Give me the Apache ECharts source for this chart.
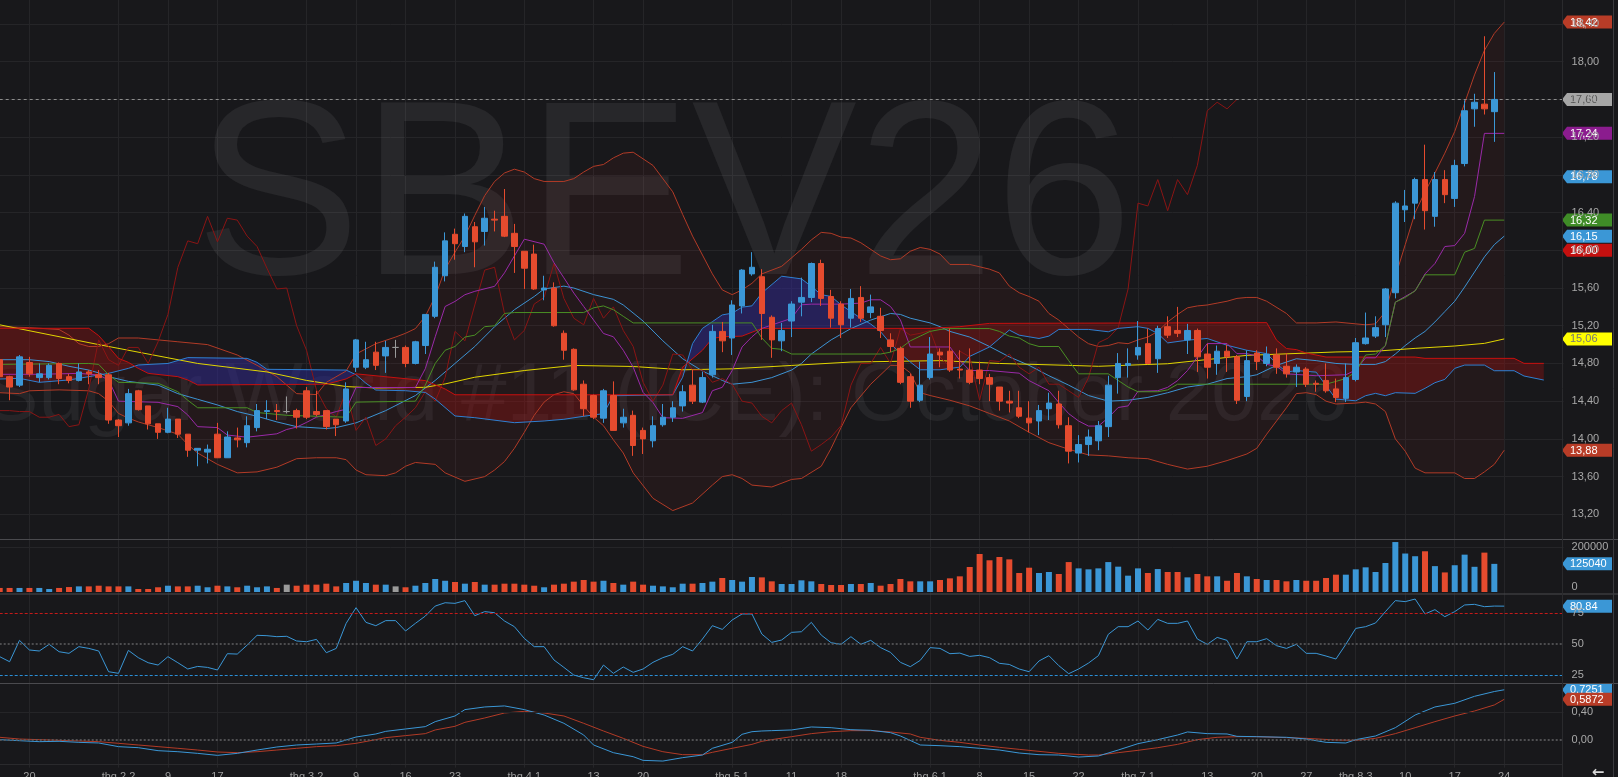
<!DOCTYPE html>
<html><head><meta charset="utf-8">
<script src="https://cdn.jsdelivr.net/npm/echarts@6/dist/echarts.min.js"></script>
<style>html,body{margin:0;padding:0;background:#18181b;overflow:hidden}#c{width:1618px;height:777px}</style>
</head><body><div id="c"></div>
<script>
const categories = ['01-14','01-15','01-16','01-20','01-21','01-22','01-23','01-26','01-27','01-28','01-29','01-30',
'02-02','02-03','02-04','02-05','02-06','02-09','02-10','02-11','02-12','02-13','02-17','02-18','02-19','02-20','02-23','02-24','02-25','02-26','02-27',
'03-02','03-03','03-04','03-05','03-06','03-09','03-10','03-11','03-12','03-13','03-16','03-17','03-18','03-19','03-20','03-23','03-24','03-25','03-26','03-27','03-30','03-31',
'04-01','04-02','04-06','04-07','04-08','04-09','04-10','04-13','04-14','04-15','04-16','04-17','04-20','04-21','04-22','04-23','04-24','04-27','04-28','04-29','04-30',
'05-01','05-04','05-05','05-06','05-07','05-08','05-11','05-12','05-13','05-14','05-15','05-18','05-19','05-20','05-21','05-22','05-26','05-27','05-28','05-29',
'06-01','06-02','06-03','06-04','06-05','06-08','06-09','06-10','06-11','06-12','06-15','06-16','06-17','06-18','06-19','06-22','06-23','06-24','06-25','06-29','06-30',
'07-01','07-02','07-06','07-07','07-08','07-09','07-10','07-13','07-14','07-15','07-16','07-17','07-20','07-21','07-22','07-23','07-24','07-27','07-28','07-29','07-30','07-31',
'08-03','08-04','08-05','08-06','08-07','08-10','08-11','08-12','08-13','08-14','08-17','08-18','08-19','08-20','08-21','08-24','08-25','08-26','08-27','08-28','08-31','09-01'];
const tickIdx = [3,12,17,22,31,36,41,46,53,60,65,74,80,85,94,99,104,109,115,122,127,132,137,142,147,152];
const tickText = ['20','thg 2 2','9','17','thg 3 2','9','16','23','thg 4 1','13','20','thg 5 1','11','18','thg 6 1','8','15','22','thg 7 1','13','20','27','thg 8 3','10','17','24'];

const opens = [14.84,14.66,14.57,14.81,14.65,14.65,14.80,14.66,14.62,14.71,
14.68,14.68,14.20,14.17,14.51,14.35,14.16,14.07,14.21,14.05,
13.88,13.86,14.05,13.80,14.01,13.96,14.12,14.29,14.30,14.29,
14.30,14.51,14.29,14.30,14.21,14.19,14.76,14.76,14.92,14.88,
14.97,14.97,14.80,14.99,15.30,15.73,16.17,16.04,16.25,16.20,
16.33,16.36,16.18,15.99,15.96,15.58,15.60,15.12,14.95,14.58,
14.46,14.22,14.46,14.17,14.25,14.09,13.98,14.15,14.23,14.35,
14.57,14.39,14.68,15.14,15.07,15.41,15.75,15.72,15.29,15.04,
15.25,15.45,15.50,15.86,15.51,15.43,15.28,15.50,15.34,15.30,
15.05,14.96,14.66,14.41,14.65,14.92,14.93,14.74,14.73,14.73,
14.65,14.55,14.40,14.33,14.22,14.19,14.32,14.37,14.14,13.85,
13.94,13.98,14.13,14.65,14.78,14.89,15.01,14.85,15.19,15.15,
15.05,15.15,14.90,14.80,14.93,14.87,14.45,14.91,14.80,14.89,
14.77,14.71,14.74,14.59,14.62,14.53,14.43,14.63,15.01,15.09,
15.21,15.55,16.43,16.50,16.75,16.36,16.75,16.55,16.92,17.50,
17.55,17.47];
const closes = [14.66,14.55,14.87,14.69,14.69,14.78,14.64,14.62,14.71,14.69,
14.65,14.20,14.14,14.48,14.31,14.16,14.07,14.21,14.05,13.88,
13.90,13.89,13.80,14.02,13.99,14.14,14.30,14.30,14.29,14.29,
14.23,14.23,14.26,14.13,14.15,14.53,15.05,14.84,14.78,14.97,
14.97,14.80,15.03,15.32,15.82,16.10,16.07,16.36,16.09,16.34,
16.32,16.15,16.04,15.81,15.59,15.60,15.20,14.94,14.52,14.32,
14.23,14.51,14.09,14.23,13.93,14.00,14.14,14.23,14.33,14.50,
14.40,14.65,15.14,15.04,15.42,15.79,15.82,15.33,15.05,15.15,
15.43,15.50,15.86,15.49,15.28,15.21,15.49,15.28,15.40,15.15,
14.98,14.60,14.40,14.57,14.90,14.89,14.73,14.73,14.60,14.64,
14.58,14.40,14.38,14.24,14.17,14.30,14.38,14.15,13.87,13.94,
14.02,14.14,14.57,14.80,14.80,14.97,14.80,15.17,15.10,15.12,
15.15,14.87,14.76,14.93,14.87,14.41,14.83,14.82,14.90,14.76,
14.69,14.76,14.58,14.58,14.51,14.44,14.65,15.02,15.07,15.18,
15.59,16.50,16.47,16.75,16.42,16.75,16.59,16.90,17.48,17.57,
17.50,17.60];
const lows = [14.64,14.41,14.55,14.66,14.60,14.63,14.58,14.59,14.61,14.58,
14.58,14.16,14.02,14.14,14.30,14.10,14.00,14.06,14.01,13.81,
13.71,13.74,13.80,13.80,13.91,13.91,14.08,14.21,14.20,14.27,
14.11,14.21,14.24,14.10,14.03,14.17,14.71,14.74,14.73,14.70,
14.86,14.76,14.79,14.90,15.28,15.67,15.90,15.98,15.82,16.05,
16.20,16.14,15.76,15.59,15.58,15.47,15.19,14.84,14.51,14.24,
14.21,14.17,14.09,14.12,13.82,13.84,13.91,14.13,14.18,14.29,
14.37,14.38,14.65,14.92,14.89,15.33,15.73,15.05,14.86,14.93,
15.08,15.30,15.45,15.41,15.18,15.07,15.18,15.24,15.28,15.07,
14.92,14.58,14.33,14.39,14.63,14.76,14.71,14.64,14.58,14.58,
14.40,14.30,14.28,14.22,14.07,14.04,14.20,14.11,13.74,13.75,
13.82,13.88,14.02,14.48,14.65,14.84,14.79,14.70,15.07,15.08,
14.90,14.71,14.64,14.68,14.71,14.37,14.40,14.73,14.77,14.69,
14.65,14.55,14.55,14.50,14.49,14.39,14.39,14.61,15.00,15.07,
15.08,15.49,16.30,16.33,16.22,16.25,16.50,16.46,16.89,17.31,
17.44,17.15];
const highs = [14.86,14.67,14.89,14.87,14.80,14.80,14.81,14.69,14.80,14.73,
14.73,14.70,14.21,14.53,14.52,14.35,14.16,14.33,14.21,14.05,
13.90,13.94,14.17,14.08,14.12,14.24,14.37,14.41,14.37,14.45,
14.32,14.55,14.51,14.30,14.21,14.60,15.06,15.03,15.03,15.04,
15.05,14.99,15.04,15.32,15.88,16.19,16.23,16.39,16.30,16.46,
16.42,16.65,16.28,15.99,16.06,15.73,15.66,15.15,14.96,14.62,
14.47,14.53,14.61,14.32,14.30,14.12,14.24,14.37,14.40,14.57,
14.74,14.71,15.21,15.24,15.47,15.80,15.98,15.80,15.31,15.23,
15.46,15.71,15.87,15.90,15.58,15.46,15.59,15.62,15.53,15.39,
15.12,14.98,14.69,14.82,15.08,14.96,15.17,14.94,14.96,14.82,
14.69,14.55,14.51,14.51,14.40,14.36,14.49,14.51,14.23,14.04,
14.10,14.19,14.67,14.91,14.96,15.25,15.17,15.20,15.30,15.40,
15.22,15.17,15.01,14.99,15.00,14.89,14.94,14.94,14.98,14.96,
14.91,14.79,14.76,14.62,14.80,14.64,14.80,15.07,15.34,15.30,
15.60,16.52,16.64,16.77,17.12,16.83,16.85,16.96,17.59,17.66,
18.27,17.89];
const volumes = [18000,18000,18000,18000,18000,13300,18000,22000,25000,25000,
28000,25000,25000,25000,13300,13300,21000,28000,25000,25000,
28000,21000,28000,25000,21000,28000,21000,25000,18000,32600,
28000,32600,32600,37000,25000,40000,50000,40000,32600,32600,
25000,21000,28000,40000,57800,50000,44400,37000,44400,32600,
32600,37000,37000,32600,28000,21000,32600,37000,46000,53300,
46000,50000,40000,32600,46000,32600,28000,25000,21000,37000,
37000,40000,46000,62200,53300,46000,66600,65000,47400,35500,
35500,51800,47400,35500,31100,31100,35500,35500,40000,28100,
35500,57800,47400,47400,47400,53300,60700,69600,111000,169000,
141000,155500,145000,84400,108000,84400,88900,80000,133000,105000,
100700,105000,133000,112600,72600,105000,84400,102000,88900,88900,
65000,80000,69600,69600,50000,84400,69600,57800,53300,53300,
47400,53300,50000,50000,62200,77000,77000,100700,109600,88900,
128800,222000,171000,159000,181000,115000,87000,119000,166000,112000,
175000,125040];
const rsi = [39.9,35.8,53.1,45.3,44.5,49.9,43.9,42.6,48.0,46.6,
44.5,27.7,26.4,45.0,39.1,35.0,33.1,39.9,35.0,29.9,
32.0,31.2,29.1,42.3,42.0,49.3,57.2,56.9,56.1,56.4,
52.6,52.0,53.9,43.1,46.6,66.9,79.6,67.7,65.0,69.1,
69.1,60.7,66.9,72.8,80.9,83.6,83.1,85.3,73.1,76.4,
75.5,68.8,64.2,54.7,48.0,48.0,37.2,31.2,25.0,22.8,
21.2,33.1,26.4,31.5,27.2,29.9,35.3,39.1,41.8,48.0,
44.5,54.2,65.0,62.0,69.6,74.5,74.5,58.2,51.5,53.4,
59.6,60.1,67.7,57.4,51.2,49.9,56.1,49.9,53.1,47.2,
43.4,35.3,31.8,36.9,47.2,46.6,42.3,42.8,40.1,41.0,
39.1,34.5,33.6,29.9,27.7,36.4,40.7,32.6,26.1,29.9,
34.7,40.7,58.0,64.2,64.2,68.8,61.5,70.1,66.9,66.9,
68.8,54.2,49.9,55.5,53.1,38.0,52.0,52.0,54.5,48.8,
46.6,49.9,42.6,42.6,40.4,38.0,49.9,62.8,64.2,67.2,
76.4,85.3,84.5,86.6,74.5,78.0,72.3,76.4,81.8,82.3,
80.4,80.9,80.84];
const macdLine = [[0,0.005],[2,-0.01],[4,-0.024],[6,-0.019],[8,-0.034],[10,-0.043],[12,-0.096],[14,-0.111],[16,-0.154],[18,-0.169],[20,-0.193],[22,-0.222],[24,-0.193],[26,-0.145],[28,-0.101],[30,-0.072],[32,-0.058],[34,-0.043],[36,0.043],[38,0.087],[39,0.125],[41,0.159],[43,0.193],[44,0.265],[46,0.347],[47,0.439],[49,0.477],[51,0.492],[53,0.439],[55,0.361],[57,0.241],[59,0.072],[60,-0.072],[62,-0.183],[64,-0.241],[65,-0.294],[67,-0.304],[69,-0.255],[71,-0.217],[72,-0.12],[74,-0.034],[75,0.082],[76,0.12],[77,0.13],[78,0.135],[80,0.145],[82,0.188],[84,0.178],[86,0.149],[88,0.14],[90,0.106],[91,0.058],[93,-0.072],[95,-0.082],[97,-0.096],[99,-0.12],[101,-0.145],[103,-0.188],[105,-0.212],[107,-0.217],[109,-0.246],[111,-0.231],[113,-0.145],[115,-0.053],[117,0.005],[119,0.072],[120,0.116],[122,0.092],[124,0.087],[125,0.053],[127,0.048],[130,0.039],[132,0.014],[134,-0.034],[136,-0.043],[137,0.005],[139,0.058],[141,0.178],[143,0.361],[145,0.477],[147,0.53],[149,0.631],[151,0.70],[152,0.7251]];
const macdSignal = [[0,0.039],[2,0.014],[4,0.005],[6,-0.005],[8,-0.014],[10,-0.024],[12,-0.048],[14,-0.072],[16,-0.096],[18,-0.12],[20,-0.145],[22,-0.173],[24,-0.183],[26,-0.169],[28,-0.145],[30,-0.12],[32,-0.096],[34,-0.082],[36,-0.048],[38,0.005],[39,0.034],[41,0.063],[43,0.092],[44,0.145],[46,0.198],[47,0.255],[49,0.318],[51,0.39],[53,0.414],[55,0.39],[57,0.347],[59,0.241],[61,0.13],[63,0.024],[65,-0.092],[67,-0.169],[69,-0.212],[71,-0.212],[72,-0.178],[74,-0.12],[76,-0.063],[77,-0.019],[78,0.005],[80,0.048],[82,0.092],[84,0.12],[86,0.135],[88,0.135],[90,0.116],[92,0.087],[93,0.039],[95,-0.005],[97,-0.034],[99,-0.072],[101,-0.106],[103,-0.135],[105,-0.164],[107,-0.193],[110,-0.217],[111,-0.217],[113,-0.183],[115,-0.149],[117,-0.111],[119,-0.063],[121,0.005],[123,0.039],[125,0.048],[127,0.048],[130,0.034],[132,0.024],[135,0],[137,-0.005],[139,0.024],[141,0.092],[143,0.178],[145,0.265],[147,0.347],[149,0.419],[151,0.506],[152,0.5872]];

const bbUpper = [[0,15.19],[3,15.18],[6,15.16],[7,15.10],[8,15.01],[9,14.98],[10,14.98],[11,15.01],[12,15.07],[14,15.07],[16,15.05],[18,15.03],[21,15.00],[24,14.89],[26,14.78],[28,14.66],[30,14.48],[32,14.47],[33,14.60],[35,14.72],[36,14.90],[38,15.01],[40,15.08],[41,15.12],[42,15.17],[43,15.30],[44,15.51],[45,15.80],[46,15.98],[47,16.15],[48,16.37],[49,16.58],[50,16.73],[51,16.82],[52,16.86],[53,16.83],[54,16.76],[55,16.73],[57,16.73],[58,16.76],[59,16.83],[60,16.89],[61,16.91],[62,16.98],[63,17.03],[64,17.04],[66,16.90],[68,16.62],[69,16.38],[70,16.15],[71,15.95],[72,15.75],[73,15.58],[74,15.53],[75,15.58],[76,15.65],[77,15.75],[79,15.83],[81,16.01],[82,16.11],[83,16.19],[84,16.18],[85,16.14],[86,16.13],[87,16.08],[89,15.94],[90,15.90],[91,15.91],[92,15.99],[93,16.03],[94,16.01],[95,15.96],[96,15.85],[98,15.85],[100,15.80],[101,15.76],[102,15.62],[103,15.55],[104,15.51],[105,15.46],[106,15.33],[107,15.26],[108,15.17],[109,15.08],[110,15.01],[111,14.98],[112,14.99],[113,15.02],[114,15.01],[115,15.05],[116,15.08],[117,15.14],[118,15.24],[119,15.32],[120,15.39],[121,15.41],[122,15.42],[123,15.44],[124,15.46],[125,15.49],[126,15.50],[127,15.50],[128,15.46],[130,15.33],[131,15.23],[133,15.23],[135,15.24],[137,15.22],[138,15.21],[139,15.22],[140,15.35],[141,15.72],[142,16.06],[143,16.40],[144,16.62],[145,16.82],[146,17.03],[147,17.26],[148,17.56],[149,17.86],[150,18.12],[151,18.30],[152,18.42]];
const bbLower = [[0,14.49],[2,14.48],[3,14.51],[6,14.52],[9,14.51],[10,14.48],[11,14.40],[12,14.27],[13,14.22],[14,14.18],[16,14.12],[18,14.05],[19,13.94],[20,13.85],[22,13.73],[24,13.64],[26,13.65],[28,13.70],[30,13.79],[32,13.80],[34,13.80],[35,13.78],[36,13.67],[37,13.62],[39,13.61],[40,13.64],[41,13.71],[42,13.75],[44,13.73],[45,13.64],[47,13.55],[49,13.60],[50,13.67],[51,13.76],[52,13.90],[53,14.07],[54,14.25],[55,14.39],[56,14.47],[57,14.50],[58,14.48],[59,14.35],[60,14.23],[61,14.14],[62,13.99],[63,13.85],[64,13.64],[66,13.37],[68,13.24],[70,13.32],[72,13.51],[73,13.60],[74,13.62],[75,13.58],[76,13.51],[78,13.49],[80,13.57],[81,13.58],[83,13.71],[84,13.90],[85,14.12],[86,14.33],[88,14.58],[90,14.78],[91,14.78],[92,14.70],[93,14.49],[94,14.46],[96,14.41],[98,14.35],[100,14.27],[102,14.19],[104,14.07],[106,13.96],[108,13.89],[110,13.83],[112,13.82],[114,13.80],[116,13.79],[118,13.73],[120,13.68],[122,13.71],[124,13.77],[126,13.84],[127,13.90],[128,14.05],[129,14.19],[130,14.33],[131,14.48],[132,14.49],[133,14.47],[134,14.40],[135,14.37],[137,14.38],[138,14.39],[139,14.37],[140,14.29],[141,14.00],[142,13.87],[143,13.69],[144,13.64],[147,13.64],[148,13.58],[149,13.58],[150,13.65],[151,13.73],[152,13.88]];
const bbMiddle = [[0,14.84],[3,14.84],[5,14.82],[7,14.77],[9,14.73],[10,14.70],[11,14.66],[13,14.61],[16,14.57],[18,14.48],[20,14.42],[22,14.36],[24,14.29],[26,14.24],[28,14.18],[30,14.13],[33,14.11],[34,14.12],[36,14.17],[39,14.30],[42,14.46],[44,14.62],[46,14.80],[48,14.98],[50,15.19],[52,15.37],[54,15.51],[55,15.59],[57,15.62],[58,15.60],[60,15.53],[62,15.48],[63,15.42],[65,15.25],[67,15.04],[69,14.85],[71,14.72],[73,14.62],[74,14.58],[76,14.60],[78,14.65],[80,14.73],[81,14.80],[82,14.90],[84,15.05],[86,15.17],[88,15.26],[90,15.33],[91,15.32],[92,15.28],[94,15.23],[95,15.19],[96,15.14],[98,15.08],[100,14.98],[102,14.87],[104,14.78],[106,14.67],[108,14.57],[110,14.46],[112,14.40],[114,14.41],[116,14.44],[118,14.49],[120,14.55],[122,14.58],[124,14.64],[126,14.66],[127,14.68],[129,14.78],[131,14.85],[133,14.83],[135,14.80],[137,14.79],[139,14.79],[140,14.82],[141,14.90],[142,14.99],[143,15.07],[144,15.14],[145,15.24],[146,15.35],[147,15.46],[148,15.61],[149,15.77],[150,15.93],[151,16.06],[152,16.15]];
const smaLong = [[0,15.21],[10,15.00],[20,14.80],[27,14.71],[31,14.62],[35,14.555],[38,14.54],[43,14.547],[45,14.583],[48,14.654],[53,14.725],[58,14.779],[64,14.768],[69,14.733],[74,14.743],[80,14.779],[86,14.815],[95,14.83],[101,14.80],[108,14.78],[111,14.77],[118,14.797],[126,14.886],[135,14.922],[139,14.93],[143,14.96],[147,14.985],[150,15.013],[152,15.06]];
const tenkan = [[0,14.685],[4,14.685],[8,14.695],[10,14.678],[11,14.625],[12,14.40],[16,14.388],[18,14.342],[19,14.254],[20,14.13],[22,14.12],[23,14.041],[25,14.018],[28,14.054],[29,14.10],[30,14.125],[31,14.175],[32,14.23],[34,14.29],[35,14.315],[36,14.545],[42,14.545],[43,14.745],[44,15.083],[45,15.404],[46,15.458],[47,15.529],[48,15.565],[50,15.618],[51,15.761],[52,15.94],[53,16.118],[55,16.065],[56,15.868],[57,15.708],[58,15.547],[59,15.404],[60,15.261],[61,15.118],[62,15.083],[63,14.94],[64,14.761],[65,14.493],[66,14.386],[67,14.225],[69,14.218],[71,14.279],[72,14.511],[73,14.547],[74,14.725],[75,14.975],[76,15.083],[77,15.172],[80,15.279],[81,15.422],[82,15.429],[85,15.429],[87,15.44],[88,15.475],[89,15.475],[90,15.404],[91,15.261],[92,14.975],[96,14.975],[97,14.833],[98,14.725],[100,14.725],[103,14.697],[104,14.618],[106,14.511],[107,14.386],[108,14.268],[109,14.19],[110,14.136],[111,14.136],[112,14.225],[113,14.333],[114,14.35],[115,14.504],[117,14.511],[118,14.547],[119,14.618],[120,14.725],[121,14.868],[122,15.011],[124,15.011],[125,14.904],[126,14.904],[127,14.88],[128,14.79],[129,14.77],[130,14.69],[133,14.67],[136,14.68],[137,14.73],[138,14.86],[139,14.86],[140,14.99],[141,15.45],[142,15.51],[143,15.57],[144,15.75],[145,15.86],[146,16.04],[147,16.05],[148,16.18],[149,16.57],[150,17.24],[152,17.24]];
const kijun = [[0,14.79],[9,14.80],[10,14.79],[11,14.68],[12,14.60],[16,14.59],[18,14.50],[19,14.41],[20,14.33],[25,14.33],[26,14.28],[29,14.25],[35,14.23],[36,14.39],[42,14.40],[43,14.57],[44,14.80],[45,14.94],[46,14.98],[47,15.08],[48,15.10],[49,15.19],[50,15.20],[51,15.33],[52,15.34],[59,15.34],[60,15.39],[61,15.41],[62,15.37],[63,15.30],[64,15.23],[76,15.23],[77,15.07],[78,14.96],[79,14.95],[80,14.90],[89,14.90],[90,14.92],[91,14.96],[92,15.04],[93,15.09],[94,15.14],[95,15.16],[96,15.17],[100,15.17],[101,15.14],[102,15.09],[103,15.07],[104,15.01],[105,14.98],[107,14.98],[108,14.83],[109,14.69],[112,14.69],[113,14.62],[114,14.55],[115,14.50],[117,14.50],[118,14.52],[119,14.58],[134,14.58],[135,14.61],[136,14.64],[137,14.71],[138,14.89],[139,14.90],[140,14.99],[141,15.45],[142,15.50],[143,15.57],[144,15.74],[147,15.74],[148,15.98],[149,16.02],[150,16.32],[152,16.32]];
const spanA = [[0,14.635],[2,14.642],[4,14.60],[7,14.625],[9,14.66],[10,14.678],[11,14.695],[13,14.748],[14,14.784],[17,14.80],[19,14.862],[25,14.854],[26,14.812],[27,14.738],[35,14.73],[36,14.68],[37,14.59],[38,14.518],[41,14.511],[43,14.493],[44,14.422],[46,14.243],[48,14.225],[52,14.172],[55,14.19],[57,14.208],[59,14.24],[61,14.268],[62,14.458],[68,14.468],[69,14.654],[70,15.011],[71,15.172],[72,15.243],[73,15.315],[74,15.333],[75,15.397],[76,15.411],[77,15.547],[79,15.725],[81,15.697],[82,15.618],[83,15.529],[84,15.511],[85,15.422],[86,15.35],[87,15.279],[88,15.218],[89,15.136],[90,15.011],[91,14.904],[92,14.815],[93,14.733],[95,14.733],[97,14.761],[98,14.875],[100,14.975],[102,15.154],[103,15.10],[105,15.065],[106,15.09],[107,15.161],[110,15.161],[112,15.136],[113,15.172],[115,15.19],[116,15.172],[117,15.118],[118,15.018],[120,15.047],[122,15.065],[124,14.993],[126,14.94],[128,14.904],[129,14.797],[130,14.708],[131,14.725],[133,14.708],[134,14.565],[135,14.422],[137,14.404],[138,14.458],[139,14.483],[140,14.458],[141,14.49],[143,14.483],[144,14.536],[145,14.596],[146,14.631],[147,14.748],[148,14.783],[150,14.783],[151,14.723],[153,14.723],[154,14.667],[156,14.624]];
const spanB = [[0,15.173],[9,15.173],[10,15.095],[11,14.978],[12,14.854],[13,14.812],[14,14.748],[15,14.695],[18,14.66],[19,14.625],[20,14.572],[33,14.58],[35,14.636],[36,14.69],[43,14.618],[45,14.529],[46,14.468],[68,14.468],[69,14.761],[71,14.94],[72,15.065],[73,15.083],[75,15.09],[77,15.172],[94,15.172],[97,15.19],[100,15.225],[128,15.233],[129,15.047],[130,14.958],[131,14.947],[132,14.911],[134,14.868],[143,14.868],[144,14.854],[153,14.854],[154,14.801],[156,14.801]];
const chikouShift = 26;
const lastPrice = 17.60;

const C = {up:'#3b97d6', down:'#e54b2e', flat:'#9a9a9a', bb:'#b23b27', mid:'#3d93d3', yellow:'#e2d600',
  green:'#4a8f25', purple:'#9a2aa8', chikou:'#8a1515', spanA:'#2f80d2', spanB:'#c8100f', grid:'#252528', label:'#a8a8a8'};

const candleData = opens.map((o,i)=>{
  const c = closes[i];
  const item = {value:[o, c, lows[i], highs[i]]};
  if (o === c) item.itemStyle = {color:C.flat, color0:C.flat, borderColor:C.flat, borderColor0:C.flat};
  return item;
});
const volData = volumes.map((v,i)=>({value:v, itemStyle:{color: closes[i]>opens[i]?C.up:(closes[i]<opens[i]?C.down:C.flat)}}));
const chikou = closes.slice(chikouShift).map((c,j)=>[j,c]);

function lerp(arr, x){
  for (let k=0;k<arr.length-1;k++){const a=arr[k],b=arr[k+1]; if(x>=a[0]&&x<=b[0]) return a[1]+(b[1]-a[1])*(x-a[0])/(b[0]-a[0]);}
  return arr[arr.length-1][1];
}
function bbFill(params, api){
  const pts = bbUpper.map(p=>api.coord(p)).concat(bbLower.slice().reverse().map(p=>api.coord(p)));
  return {type:'polygon', shape:{points:pts}, style:{fill:'rgba(175,45,35,0.075)'}};
}
function cloudFill(params, api){
  const x0 = api.coord([0, 15])[0], step = api.coord([1, 15])[0] - x0;
  const Y = v => api.coord([0, v])[1];
  const pts = [];
  for (let i=0;i<=156;i++) pts.push([i, lerp(spanA,i), lerp(spanB,i)]);
  const segs = [];
  for (let k=0;k<pts.length-1;k++){
    const [i,a0,b0]=pts[k], [,a1,b1]=pts[k+1];
    const d0=a0-b0, d1=a1-b1;
    if (d0*d1<0){ const t=d0/(d0-d1), yc=a0+(a1-a0)*t;
      segs.push([i,a0,b0,i+t,yc,yc,d0>0]); segs.push([i+t,yc,yc,i+1,a1,b1,d1>0]);
    } else segs.push([i,a0,b0,i+1,a1,b1,(d0+d1)>0]);
  }
  const children=[]; let run=null;
  const flush=()=>{ if(!run) return; const poly=run.top.concat(run.bot.slice().reverse());
    children.push({type:'polygon', shape:{points:poly}, style:{fill: run.pos?'rgba(42,42,150,0.5)':'rgba(150,18,18,0.38)'}}); run=null; };
  segs.forEach(s=>{
    if(!run || run.pos!==s[6]){ flush(); run={pos:s[6], top:[[x0+s[0]*step, Y(s[1])]], bot:[[x0+s[0]*step, Y(s[2])]]}; }
    run.top.push([x0+s[3]*step, Y(s[4])]); run.bot.push([x0+s[3]*step, Y(s[5])]);
  });
  flush();
  return {type:'group', children};
}

const GL=-0.3, GW=1563.9;
const xAxisBase = (gi, showLabel) => ({
  type:'category', data:categories, gridIndex:gi, boundaryGap:false,
  axisLine:{show:false}, axisTick:{show:false},
  axisLabel:{show:showLabel, interval:(idx)=>tickIdx.indexOf(idx)>=0,
    formatter:(v,idx)=>{const k=tickIdx.indexOf(idx); return k>=0?tickText[k]:'';},
    color:'#9d9d9d', fontSize:11, margin:4, fontFamily:'Liberation Sans'},
  splitLine:{show:true, interval:(idx)=>tickIdx.indexOf(idx)>=0, lineStyle:{color:C.grid, width:1}}
});
const fmt2 = v => v.toFixed(2).replace('.', ',');
const line = (data, color, z) => ({type:'line', data, xAxisIndex:0, yAxisIndex:0, showSymbol:false, symbol:'none', silent:true,
  lineStyle:{color, width:1}, z:z||3, animation:false});

const option = {
  backgroundColor:'#18181b',
  animation:false,
  grid:[
    {left:GL, width:GW, top:-13.74, height:565.8, containLabel:false, outerBoundsMode:'none'},
    {left:GL, width:GW, top:538, height:54, containLabel:false, outerBoundsMode:'none'},
    {left:GL, width:GW, top:582.5, height:123.4, containLabel:false, outerBoundsMode:'none'},
    {left:GL, width:GW, top:684.6, height:83.1, containLabel:false, outerBoundsMode:'none'}
  ],
  xAxis:[xAxisBase(0,false), xAxisBase(1,false), xAxisBase(2,false), xAxisBase(3,true)],
  yAxis:[
    {type:'value', gridIndex:0, position:'right', min:12.8, max:18.8, interval:0.4,
      axisLine:{show:false}, axisTick:{show:false},
      axisLabel:{color:C.label, fontSize:11, margin:8, formatter:fmt2, showMinLabel:false, showMaxLabel:false, fontFamily:'Liberation Sans'},
      splitLine:{show:true, showMinLine:false, showMaxLine:false, lineStyle:{color:C.grid}}},
    {type:'value', gridIndex:1, position:'right', min:0, max:240000, interval:200000,
      axisLine:{show:false}, axisTick:{show:false},
      axisLabel:{color:C.label, fontSize:11, margin:8, showMaxLabel:false, verticalAlignMinLabel:'bottom', fontFamily:'Liberation Sans',
        formatter:v=>String(Math.round(v))},
      splitLine:{show:true, showMinLine:false, showMaxLine:false, lineStyle:{color:C.grid}}},
    {type:'value', gridIndex:2, position:'right', min:0, max:100, interval:25,
      axisLine:{show:false}, axisTick:{show:false},
      axisLabel:{color:C.label, fontSize:11, margin:8, showMinLabel:false, showMaxLabel:false, fontFamily:'Liberation Sans'},
      splitLine:{show:false}},
    {type:'value', gridIndex:3, position:'right', min:-0.4, max:0.8, interval:0.4,
      axisLine:{show:false}, axisTick:{show:false},
      axisLabel:{color:C.label, fontSize:11, margin:8, showMinLabel:false, showMaxLabel:false, fontFamily:'Liberation Sans',
        formatter:v=>(Math.abs(v-0.4)<1e-6||Math.abs(v)<1e-6)?fmt2(v):''},
      splitLine:{show:false}}
  ],
  series:[
    {type:'custom', xAxisIndex:0, yAxisIndex:0, data:[[0,15]], renderItem:bbFill, clip:true, silent:true, z:1},
    {type:'custom', xAxisIndex:0, yAxisIndex:0, data:[[0,15]], renderItem:cloudFill, clip:true, silent:true, z:1},
    line(bbUpper, C.bb), line(bbLower, C.bb), line(bbMiddle, C.mid), line(smaLong, C.yellow),
    line(chikou, C.chikou), line(spanA, C.spanA), line(spanB, C.spanB), line(tenkan, C.purple), line(kijun, C.green),
    {type:'candlestick', xAxisIndex:0, yAxisIndex:0, data:candleData, barWidth:6, z:5, silent:true,
      itemStyle:{color:C.up, color0:C.down, borderColor:C.up, borderColor0:C.down, borderWidth:1},
      markLine:{symbol:['none','none'], silent:true, label:{show:false}, animation:false,
        lineStyle:{color:'#8c8c8c', type:[3,3], width:1}, data:[{yAxis:lastPrice}]}},
    {type:'bar', xAxisIndex:1, yAxisIndex:1, data:volData, barWidth:6, silent:true},
    {type:'line', xAxisIndex:2, yAxisIndex:2, data:rsi, showSymbol:false, symbol:'none', silent:true, lineStyle:{color:C.up, width:1},
      markLine:{symbol:['none','none'], silent:true, label:{show:false}, animation:false, data:[
        {yAxis:75, lineStyle:{color:'#c41a1a', type:[3,2], width:1}},
        {yAxis:50, lineStyle:{color:'#5f5f62', type:[2,2], width:1.6}},
        {yAxis:25, lineStyle:{color:'#2a8fd8', type:[3,2], width:1}}]}},
    {type:'line', xAxisIndex:3, yAxisIndex:3, data:macdSignal, showSymbol:false, symbol:'none', silent:true, lineStyle:{color:C.bb, width:1},
      markLine:{symbol:['none','none'], silent:true, label:{show:false}, animation:false, data:[
        {yAxis:0.4, lineStyle:{color:C.grid, type:'solid', width:1}},
        {yAxis:0, lineStyle:{color:'#5f5f62', type:[2,2], width:1.6}}]}},
    {type:'line', xAxisIndex:3, yAxisIndex:3, data:macdLine, showSymbol:false, symbol:'none', silent:true, lineStyle:{color:C.up, width:1}}
  ]
};

const chart = echarts.init(document.getElementById('c'), null, {renderer:'canvas', width:1618, height:777});
chart.setOption(option);

const wm = [
  {type:'text', x:664, y:206, z:0, silent:true, style:{text:'SBEV26', font:'248px "Liberation Sans", Arial', fill:'rgba(255,255,255,0.065)', align:'center', verticalAlign:'middle'}},
  {type:'text', x:666, y:397, z:0, silent:true, style:{text:'Sugar World #11 (ICE): October 2026', font:'82px "Liberation Sans", Arial', fill:'rgba(255,255,255,0.06)', align:'center', verticalAlign:'middle'}}
];
const seps = [539.5, 594, 683.5].map(y=>({type:'line', z:50, silent:true, shape:{x1:0,y1:y,x2:1618,y2:y}, style:{stroke:'#4a4a4e', lineWidth:1}}));
seps.push({type:'line', z:50, silent:true, shape:{x1:0,y1:764.5,x2:1563,y2:764.5}, style:{stroke:'#2a2a2d', lineWidth:1}});
seps.push({type:'line', z:50, silent:true, shape:{x1:1562.5,y1:0,x2:1562.5,y2:777}, style:{stroke:'#2a2a2d', lineWidth:1}});
seps.push({type:'line', z:50, silent:true, shape:{x1:1613.5,y1:0,x2:1613.5,y2:777}, style:{stroke:'#3a3a3e', lineWidth:1}});
seps.push({type:'text', x:1598, y:773, z:60, silent:true, style:{text:'←', font:'bold 15px "DejaVu Sans"', fill:'#d8d8d8', align:'center', verticalAlign:'middle'}});

const tagDefs = [
  [0,18.42,'18,42','#b83c27','#ffffff'],[0,17.60,'17,60','#a6a6a6','#555555'],[0,17.24,'17,24','#8b1c8e','#ffffff'],
  [0,16.78,'16,78','#3b97d6','#ffffff'],[0,16.32,'16,32','#3f8c27','#ffffff'],[0,16.15,'16,15','#3b97d6','#ffffff'],
  [0,16.00,'16,00','#c4100f','#ffffff'],[0,15.06,'15,06','#ffff00','#777777'],[0,13.88,'13,88','#b83c27','#ffffff'],
  [1,125040,'125040','#3b97d6','#ffffff'],[2,80.84,'80.84','#3b97d6','#ffffff'],
  [3,0.7251,'0,7251','#3b97d6','#ffffff'],[3,0.5872,'0,5872','#b83c27','#ffffff']
];
const tags = tagDefs.map(([ax,v,t,bg,fg])=>{
  const y = chart.convertToPixel({yAxisIndex:ax}, v);
  return {type:'group', z:100, silent:true, children:[
    {type:'polygon', shape:{points:[[1562,y],[1567,y-6.5],[1612,y-6.5],[1612,y+6.5],[1567,y+6.5]]}, style:{fill:bg}},
    {type:'text', x:1570, y:y+0.5, style:{text:t, font:'11px "Liberation Sans", Arial', fill:fg, align:'left', verticalAlign:'middle'}}
  ]};
});
chart.setOption({graphic: wm.concat(seps, tags)});
</script></body></html>
